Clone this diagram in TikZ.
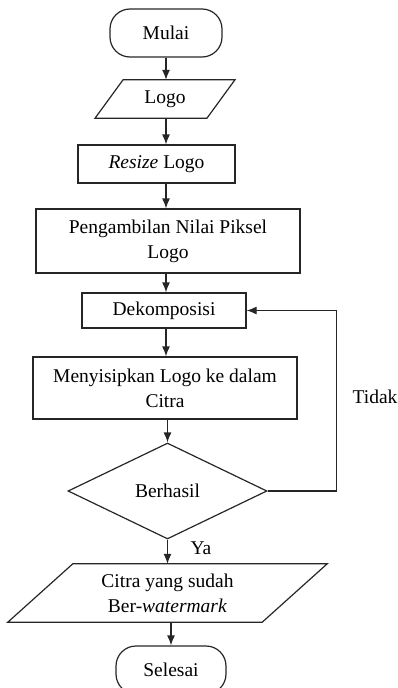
\documentclass[tikz,border=0pt]{standalone}
\usepackage{fontspec}
\setmainfont{Liberation Serif}
\usetikzlibrary{arrows.meta,calc,shapes.geometric}
\begin{document}
\begin{tikzpicture}[x=1pt,y=-1pt,
  font=\fontsize{19.5}{25}\selectfont,
  line/.style={draw=black!85, line width=1.2pt},
  arr/.style={line, -{Latex[length=10pt,width=8pt]}},
  procbox/.style={line, rectangle, align=center, inner sep=0pt},
  term/.style={line, rectangle, rounded corners=20pt, align=center, inner sep=0pt},
  iobox/.style={rectangle, align=center, inner sep=0pt},
  decis/.style={line, diamond, aspect=2.07, inner sep=0pt, minimum width=199pt, minimum height=96pt}]
\useasboundingbox (0,0) rectangle (397,688);
\clip (0,0) rectangle (397,688);
\coordinate (spine) at (166,0);
\node[term, minimum width=112pt, minimum height=48pt] (mulai) at (166,33) {Mulai};
\node[iobox, minimum width=111.5pt, minimum height=38pt] (logo) at (165,99) {Logo};
\draw[line] ($(logo.north west)+(14,0)$) -- ($(logo.north east)+(14,0)$) -- ($(logo.south east)+(-14,0)$) -- ($(logo.south west)+(-14,0)$) -- cycle;
\node[procbox, minimum width=157pt, minimum height=38pt] (resize) at (156.5,164) {\textit{Resize} Logo};
\node[procbox, minimum width=264pt, minimum height=64pt] (ambil) at (168,241) {Pengambilan Nilai Piksel\\Logo};
\node[procbox, minimum width=164pt, minimum height=35pt] (dek) at (164,310.5) {Dekomposisi};
\node[procbox, minimum width=264pt, minimum height=62pt] (sisip) at (165,388) {Menyisipkan Logo ke dalam\\Citra};
\node[decis] (dia) at (167.5,491) {Berhasil};
\node[iobox, minimum width=254pt, minimum height=58pt] (hasil) at (167.5,593) {Citra yang sudah\\Ber-\textit{watermark}};
\draw[line] ($(hasil.north west)+(32.5,0)$) -- ($(hasil.north east)+(32.5,0)$) -- ($(hasil.south east)+(-32.5,0)$) -- ($(hasil.south west)+(-32.5,0)$) -- cycle;
\node[term, minimum width=110pt, minimum height=48pt] (selesai) at (171,670) {Selesai};
\node (ya) at (201,548) {Ya};
\node (tidak) at (375,397) {Tidak};
\draw[arr] (mulai.south -| spine) -- (logo.north -| spine);
\draw[arr] (logo.south -| spine) -- (resize.north -| spine);
\draw[arr] (resize.south -| spine) -- (ambil.north -| spine);
\draw[arr] (ambil.south -| spine) -- (dek.north -| spine);
\draw[arr] (dek.south -| spine) -- (sisip.north -| spine);
\draw[arr] (sisip.south -| dia.north) -- (dia.north);
\draw[arr] (dia.south) -- (hasil.north -| dia.south);
\draw[arr] (hasil.south -| selesai.north) -- (selesai.north);
\draw[arr] (dia.east) -- ++(69,0) |- (dek.east);
\end{tikzpicture}
\end{document}
